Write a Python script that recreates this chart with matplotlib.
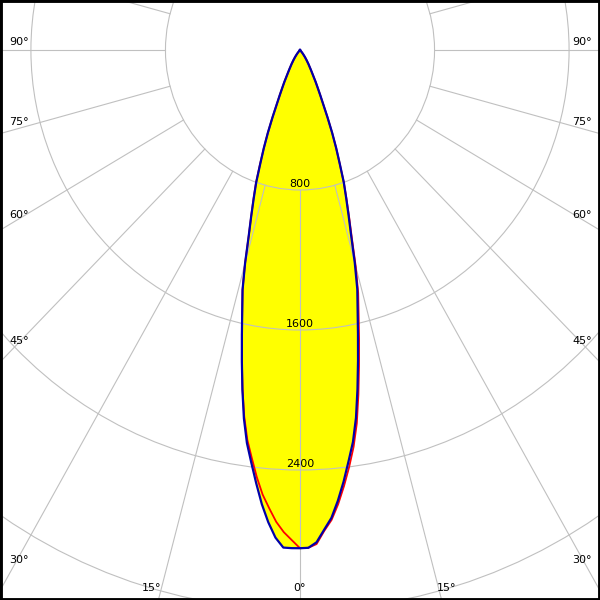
import numpy as np
import matplotlib.pyplot as plt
from matplotlib.patches import Circle

# intensity table (cd) per gamma angle, one list per C half-plane
angles = [0, 1, 2, 3, 4, 5, 6, 7, 8, 9, 10, 11, 12, 13, 14, 15, 16, 17, 18, 19,
          20, 21, 22, 23, 24, 25, 26, 27, 28, 29, 30, 32, 34, 36, 38, 40, 45, 60, 75, 90]
c0 = [2847, 2845, 2815, 2745, 2680, 2585, 2480, 2368, 2262, 2128, 1968, 1808, 1658, 1523, 1408, 1258,
      1103, 988, 888, 800, 690, 600, 510, 420, 340, 285, 240, 205, 170, 145, 125, 95, 70, 50, 32, 18, 0, 0, 0, 0]
c180 = [2847, 2847, 2845, 2790, 2705, 2605, 2490, 2376, 2268, 2132, 1972, 1812, 1662, 1527, 1412, 1262,
        1107, 992, 890, 800, 690, 600, 510, 420, 340, 285, 240, 205, 170, 145, 125, 95, 70, 50, 32, 18, 0, 0, 0, 0]
c90 = [2847, 2845, 2825, 2752, 2692, 2605, 2505, 2400, 2290, 2160, 2000, 1840, 1690, 1550, 1430, 1280,
       1120, 1000, 895, 800, 690, 600, 510, 420, 340, 285, 240, 205, 170, 145, 125, 95, 70, 50, 32, 18, 0, 0, 0, 0]
c270 = [2847, 2801, 2757, 2700, 2625, 2550, 2455, 2350, 2250, 2120, 1968, 1810, 1662, 1527, 1412, 1262,
        1107, 992, 895, 805, 695, 600, 510, 420, 340, 285, 240, 205, 170, 145, 125, 95, 70, 50, 32, 18, 0, 0, 0, 0]

rings = [800, 1600, 2400, 3200]
ring_labels = ['800', '1600', '2400']
side_labels = [90, 75, 60, 45, 30]
bottom_labels = [-15, 0, 15]

# layout (pixels)
side_label_y = [42, 122, 215, 341, 560]
bottom_label_x = [152, 300, 447]

ky = 800 / 140.0          # cd per pixel, vertical
kx = ky / 0.961           # cd per pixel, horizontal
X = 300 * kx
ymin, ymax = -550 * ky, 50 * ky

fig = plt.figure(figsize=(6, 6), dpi=100)
ax = fig.add_axes([0, 0, 1, 1])
ax.set_xlim(-X, X)
ax.set_ylim(ymin, ymax)
ax.set_xticks([])
ax.set_yticks([])
for s in ax.spines.values():
    s.set_linewidth(3.5)
    s.set_color('black')


def plane(left, right):
    th = np.radians(angles)
    l = np.array(left)
    r = np.array(right)
    x = np.concatenate([(-l * np.sin(th))[::-1], r * np.sin(th)])
    y = np.concatenate([(-l * np.cos(th))[::-1], -r * np.cos(th)])
    return x, y


bx, by = plane(c180, c0)
rx, ry = plane(c270, c90)

ax.fill(bx, by, color='#ffff00', zorder=1, lw=0)

grid = '#c0c0c0'
for r in rings:
    ax.add_patch(Circle((0, 0), r, fill=False, ec=grid, lw=0.8, zorder=2))
for a in range(0, 360, 15):
    t = np.radians(a)
    ax.plot([rings[0] * np.sin(t), 8000 * np.sin(t)],
            [-rings[0] * np.cos(t), -8000 * np.cos(t)],
            color=grid, lw=0.8, zorder=2)

ax.plot(rx, ry, color='#ff0000', lw=1.3, zorder=3)
ax.plot(bx, by, color='#0000aa', lw=1.6, zorder=4)

for r, txt in zip(rings, ring_labels):
    ax.text(0, -r + 6 * ky, txt, ha='center', va='center', fontsize=8, zorder=5)


def px(xp, yp):
    return -X + xp * kx, ymax - yp * ky


for a, yp in zip(side_labels, side_label_y):
    ax.text(*px(9, yp), '%d°' % a, ha='left', va='center', fontsize=8, zorder=5)
    ax.text(*px(592, yp), '%d°' % a, ha='right', va='center', fontsize=8, zorder=5)

for a, xp in zip(bottom_labels, bottom_label_x):
    ax.text(*px(xp, 588), '%d°' % abs(a), ha='center', va='center', fontsize=8, zorder=5)

fig.savefig('out.png', dpi=100)
